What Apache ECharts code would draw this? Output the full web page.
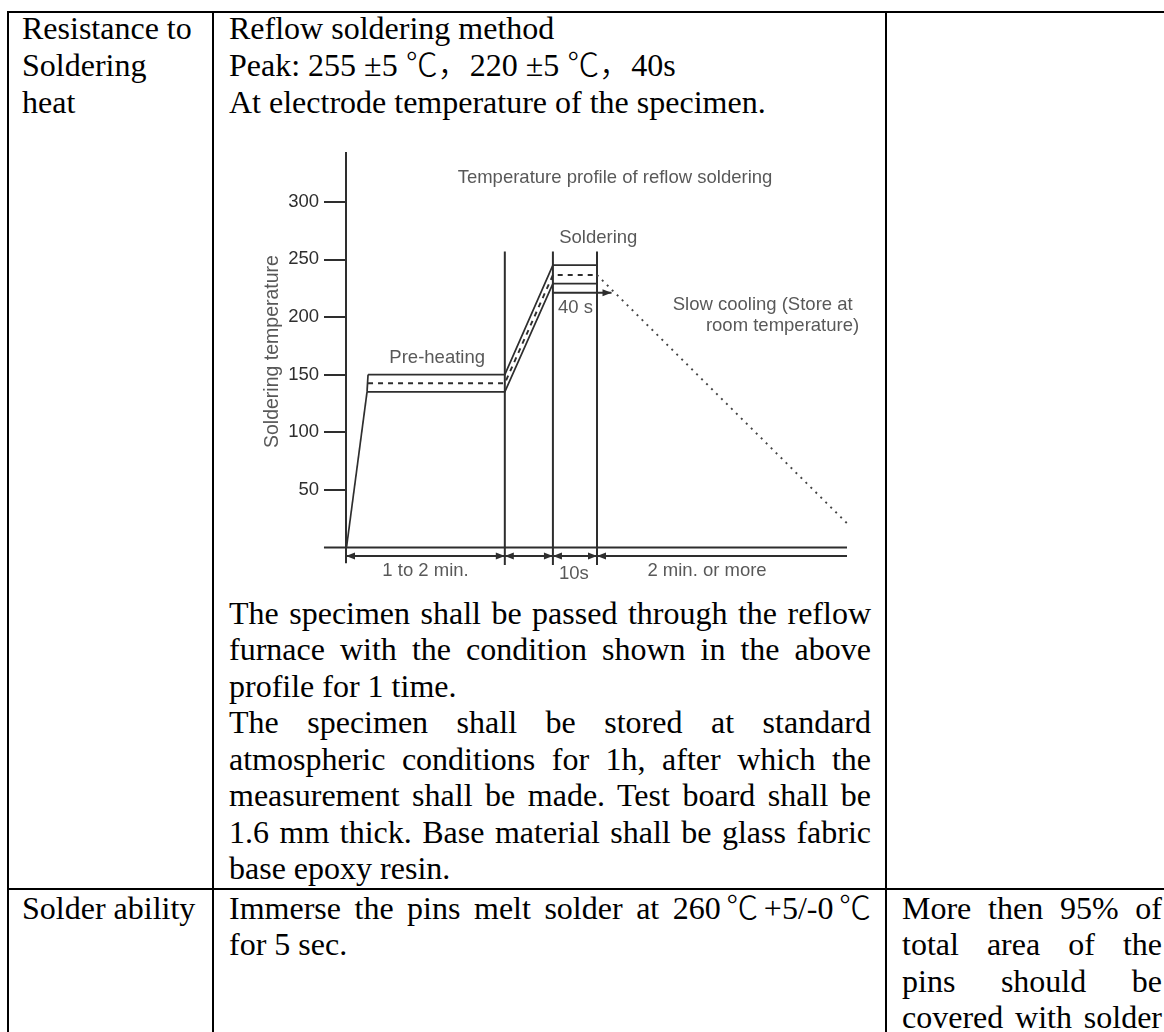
<!DOCTYPE html>
<html>
<head>
<meta charset="utf-8">
<script src="https://cdn.jsdelivr.net/npm/echarts@6/dist/echarts.min.js"></script>
<style>
html,body{margin:0;padding:0;background:#fff;}
body{width:1164px;height:1032px;overflow:hidden;position:relative;font-family:"Liberation Serif","Times New Roman",serif;font-size:32px;color:#000;}
.b{position:absolute;background:#000;}
.t{position:absolute;white-space:nowrap;line-height:36.5px;height:36.5px;}
.j{white-space:normal;text-align:justify;text-align-last:justify;}
.cjk{font-family:"Noto Sans CJK SC",sans-serif;font-weight:300;line-height:0;}
#chart{position:absolute;left:0;top:0;width:1164px;height:1032px;}
</style>
</head>
<body>
<!-- table rules -->
<div class="b" style="left:7px;top:11px;width:1157px;height:2px"></div>
<div class="b" style="left:7px;top:11px;width:2px;height:1021px"></div>
<div class="b" style="left:212px;top:11px;width:2px;height:1021px"></div>
<div class="b" style="left:885px;top:11px;width:2px;height:1021px"></div>
<div class="b" style="left:7px;top:888px;width:1157px;height:2px"></div>

<!-- row 1 -->
<div class="t" style="left:22px;top:10px">Resistance to</div>
<div class="t" style="left:22px;top:47px">Soldering</div>
<div class="t" style="left:22px;top:83.5px">heat</div>

<div class="t" style="left:229px;top:10px">Reflow soldering method</div>
<div class="t" style="left:229px;top:47px">Peak: 255 ±5 <span class="cjk">℃，</span>220 ±5 <span class="cjk">℃，</span>40s</div>
<div class="t" style="left:229px;top:83.5px">At electrode temperature of the specimen.</div>

<div class="t j" style="left:229px;width:642px;top:594.5px">The specimen shall be passed through the reflow</div>
<div class="t j" style="left:229px;width:642px;top:631px">furnace with the condition shown in the above</div>
<div class="t" style="left:229px;top:667.5px">profile for 1 time.</div>
<div class="t j" style="left:229px;width:642px;top:704px">The specimen shall be stored at standard</div>
<div class="t j" style="left:229px;width:642px;top:740.5px">atmospheric conditions for 1h, after which the</div>
<div class="t j" style="left:229px;width:642px;top:777px">measurement shall be made. Test board shall be</div>
<div class="t j" style="left:229px;width:642px;top:813.5px">1.6 mm thick. Base material shall be glass fabric</div>
<div class="t" style="left:229px;top:850px">base epoxy resin.</div>

<!-- row 2 -->
<div class="t" style="left:22px;top:889.5px">Solder ability</div>
<div class="t j" style="left:229px;width:642px;top:889.5px">Immerse the pins melt solder at 260<span class="cjk">℃</span>+5/-0<span class="cjk">℃</span></div>
<div class="t" style="left:229px;top:926px">for 5 sec.</div>
<div class="t j" style="left:902px;width:260px;top:889.5px">More then 95% of</div>
<div class="t j" style="left:902px;width:260px;top:926px">total area of the</div>
<div class="t j" style="left:902px;width:260px;top:962.5px">pins should be</div>
<div class="t j" style="left:902px;width:260px;top:999px">covered with solder</div>

<div id="chart"></div>

<script>
// ---------------- data ----------------
// temperature axis ticks (°C)
const yTickValues = [0, 50, 100, 150, 200, 250, 300];
const axisTitle = 'Soldering temperature';
const chartTitle = 'Temperature profile of reflow soldering';

// schematic time axis: 0 = start of profile, 100 = right end of drawing
const yAxisSpan = [[0, -13.7], [0, 343]];
const baseAxis = [[-4.4, 0], [100, 0]];
const phaseBounds = [31.7, 41.3, 50.1];
const phaseLineSpan = [-15.2, 256.8];

const rampUp = [[0.1, 0], [4.2, 135]];
const bandLeft = [[4.2, 135], [4.4, 150]];
const upperProfile = [[4.4, 150], [31.7, 150], [41.3, 245], [50.1, 245]];
const lowerProfile = [[4.2, 135], [31.7, 135], [41.3, 229], [50.1, 229]];
const midProfile = [[4.4, 142.5], [31.7, 142.5], [41.3, 236.4], [50.1, 236.4]];
const coolingProfile = [[50.1, 236.4], [100, 21]];
const soakArrow = [[41.3, 221.1], [53.0, 221.1]];

const dimLevel = -7.4;
const dimLine = [[0, dimLevel], [100, dimLevel]];
// arrow heads on the dimension line: [x, y, direction]
const arrowHeads = [
  [0, dimLevel, 'left'], [31.7, dimLevel, 'right'],
  [31.7, dimLevel, 'left'], [41.3, dimLevel, 'right'],
  [41.3, dimLevel, 'left'], [50.1, dimLevel, 'right'],
  [50.1, dimLevel, 'left'],
  [53.0, 221.1, 'right']
];

// text annotations: [text, x, y, rotate, size]
const annotations = [
  [chartTitle, 53.69, 320.6, 0, 18.5],
  ['Soldering', 50.36, 268.9, 0, 18.5],
  ['Pre-heating', 18.2, 164.8, 0, 18.5],
  ['40 s', 45.8, 208.2, 0, 18.5],
  ['Slow cooling (Store at', 83.17, 210.4, 0, 18.5],
  ['room temperature)', 87.13, 192.6, 0, 18.5],
  ['1 to 2 min.', 15.87, -20.4, 0, 18.5],
  ['10s', 45.5, -23, 0, 18.5],
  ['2 min. or more', 72.06, -20.4, 0, 18.5],
  [axisTitle, -14.57, 170, 90, 19.5]
];

// ---------------- layout ----------------
const W = 1164, H = 1032;
const X0 = 346, Y0 = 547.5;          // pixel of (0,0)
const PX_X = 5.01, PX_Y = 1.1527;    // pixels per unit
const INK = '#2e2e2e';
const SANS = '"Liberation Sans", Arial, sans-serif';

const yMin = yTickValues[0], yMax = yTickValues[yTickValues.length - 1];
const yInterval = yTickValues[1] - yTickValues[0];

const bx = [-20, 110], by = [-30, 350];

function seg(data, extra) {
  return Object.assign({
    type: 'line', data: data, xAxisIndex: 1, yAxisIndex: 1,
    symbol: 'none', clip: false, silent: true, animation: false,
    color: INK, lineStyle: { color: INK, width: 2 }
  }, extra || {});
}

const series = [];
series.push(seg(yAxisSpan));
series.push(seg(baseAxis));
phaseBounds.forEach(function (x) {
  series.push(seg([[x, phaseLineSpan[0]], [x, phaseLineSpan[1]]]));
});
series.push(seg(rampUp, { lineStyle: { color: INK, width: 1.7 } }));
series.push(seg(bandLeft, { lineStyle: { color: INK, width: 1.7 } }));
series.push(seg(upperProfile, { lineStyle: { color: INK, width: 1.7 } }));
series.push(seg(lowerProfile, { lineStyle: { color: INK, width: 1.7 } }));
series.push(seg(midProfile, { lineStyle: { color: INK, width: 1.9, type: [5, 5] } }));
series.push(seg(coolingProfile, { lineStyle: { color: '#444', width: 1.9, type: [2, 5] } }));
series.push(seg(dimLine));
series.push(seg(soakArrow));

// arrow heads
const LEFT_HEAD = 'path://M0,5L10,0L10,10Z';
const RIGHT_HEAD = 'path://M10,5L0,0L0,10Z';
series.push({
  type: 'scatter', xAxisIndex: 1, yAxisIndex: 1, silent: true, animation: false, clip: false,
  symbolKeepAspect: false,
  itemStyle: { color: INK, opacity: 1 },
  data: arrowHeads.map(function (a) {
    const left = a[2] === 'left';
    return {
      value: [a[0], a[1]],
      symbol: left ? LEFT_HEAD : RIGHT_HEAD,
      symbolSize: [9, 7],
      symbolOffset: [left ? 4.5 : -4.5, 0]
    };
  })
});

// annotations
series.push({
  type: 'scatter', xAxisIndex: 1, yAxisIndex: 1, silent: true, animation: false,
  clip: false, symbol: 'rect', symbolSize: 0,
  itemStyle: { color: 'rgba(0,0,0,0)' },
  label: { show: true, position: 'inside', formatter: '{b}', color: INK, fontFamily: SANS },
  data: annotations.map(function (a) {
    return { name: a[0], value: [a[1], a[2]], label: { rotate: a[3], fontSize: a[4] } };
  })
});

const chart = echarts.init(document.getElementById('chart'), null, { renderer: 'canvas' });
chart.setOption({
  animation: false,
  backgroundColor: 'transparent',
  grid: [
    { left: X0, right: W - (X0 + 100 * PX_X), top: Y0 - yMax * PX_Y, bottom: H - Y0 },
    { left: X0 + bx[0] * PX_X, right: W - (X0 + bx[1] * PX_X), top: Y0 - by[1] * PX_Y, bottom: H - (Y0 - by[0] * PX_Y) }
  ],
  xAxis: [
    { gridIndex: 0, type: 'value', min: 0, max: 100, show: false },
    { gridIndex: 1, type: 'value', min: bx[0], max: bx[1], show: false }
  ],
  yAxis: [
    {
      gridIndex: 0, type: 'value', min: yMin, max: yMax, interval: yInterval,
      axisLine: { show: false },
      axisTick: { show: true, length: 22, lineStyle: { color: INK, width: 2 } },
      axisLabel: { show: true, showMinLabel: false, margin: 27, color: INK, fontSize: 18.5, fontFamily: SANS },
      splitLine: { show: false }
    },
    { gridIndex: 1, type: 'value', min: by[0], max: by[1], show: false }
  ],
  series: series
});
</script>
</body>
</html>
